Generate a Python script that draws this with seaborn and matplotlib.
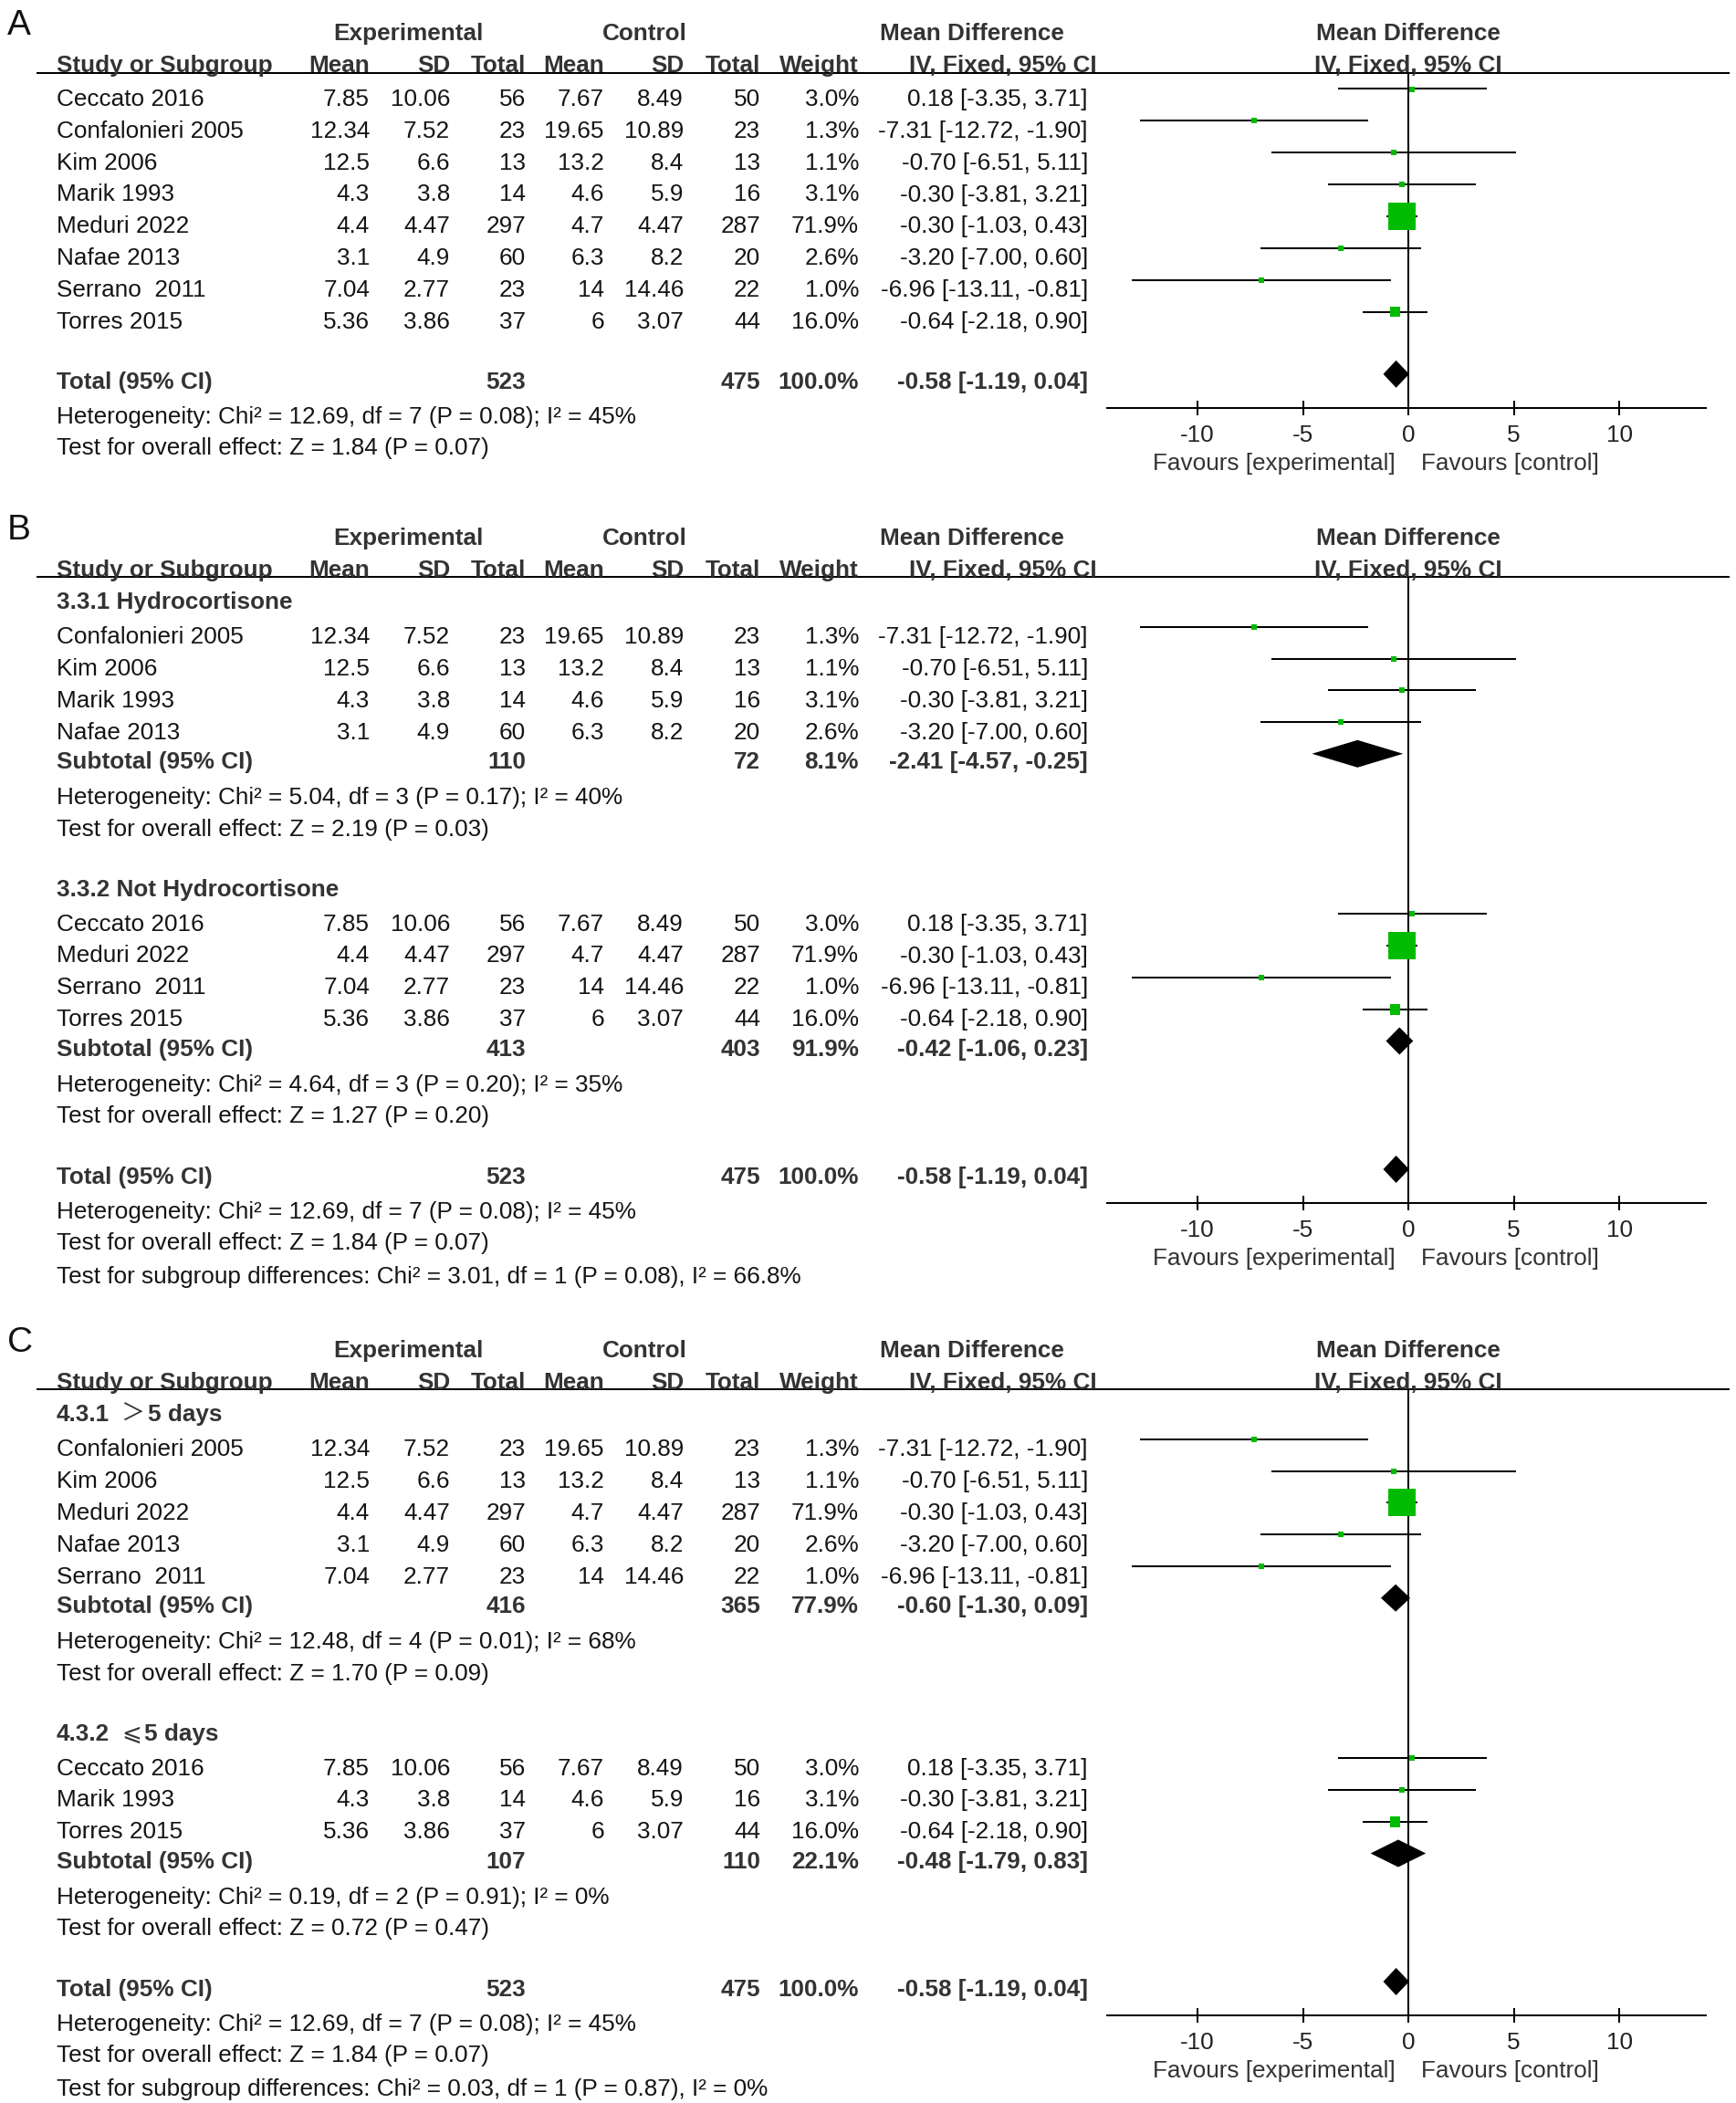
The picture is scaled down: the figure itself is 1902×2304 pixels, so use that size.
import matplotlib
matplotlib.use("Agg")
import matplotlib.pyplot as plt
import seaborn as sns
import numpy as np

# ---------------------------------------------------------------- data
study_names = ["Ceccato 2016", "Confalonieri 2005", "Kim 2006", "Marik 1993",
               "Meduri 2022", "Nafae 2013", "Serrano  2011", "Torres 2015"]
exp_mean = [7.85, 12.34, 12.5, 4.3, 4.4, 3.1, 7.04, 5.36]
exp_sd = [10.06, 7.52, 6.6, 3.8, 4.47, 4.9, 2.77, 3.86]
exp_n = [56, 23, 13, 14, 297, 60, 23, 37]
ctl_mean = [7.67, 19.65, 13.2, 4.6, 4.7, 6.3, 14, 6]
ctl_sd = [8.49, 10.89, 8.4, 5.9, 4.47, 8.2, 14.46, 3.07]
ctl_n = [50, 23, 13, 16, 287, 20, 22, 44]
weights = [3.0, 1.3, 1.1, 3.1, 71.9, 2.6, 1.0, 16.0]
md = [0.18, -7.31, -0.70, -0.30, -0.30, -3.20, -6.96, -0.64]
ci_low = [-3.35, -12.72, -6.51, -3.81, -1.03, -7.00, -13.11, -2.18]
ci_high = [3.71, -1.90, 5.11, 3.21, 0.43, 0.60, -0.81, 0.90]

total_exp_n = 523
total_ctl_n = 475
total_weight = 100.0
total_md = -0.58
total_lo = -1.19
total_hi = 0.04
total_het = "Heterogeneity: Chi² = 12.69, df = 7 (P = 0.08); I² = 45%"
total_test = "Test for overall effect: Z = 1.84 (P = 0.07)"

# panel A: all studies
a_order = ["Ceccato 2016", "Confalonieri 2005", "Kim 2006", "Marik 1993",
           "Meduri 2022", "Nafae 2013", "Serrano  2011", "Torres 2015"]

# panel B: by drug
b_titles = [[("3.3.1 Hydrocortisone", "bold")],
            [("3.3.2 Not Hydrocortisone", "bold")]]
b_members = [["Confalonieri 2005", "Kim 2006", "Marik 1993", "Nafae 2013"],
             ["Ceccato 2016", "Meduri 2022", "Serrano  2011", "Torres 2015"]]
b_sub_exp_n = [110, 413]
b_sub_ctl_n = [72, 403]
b_sub_weight = [8.1, 91.9]
b_sub_md = [-2.41, -0.42]
b_sub_lo = [-4.57, -1.06]
b_sub_hi = [-0.25, 0.23]
b_sub_het = ["Heterogeneity: Chi² = 5.04, df = 3 (P = 0.17); I² = 40%",
             "Heterogeneity: Chi² = 4.64, df = 3 (P = 0.20); I² = 35%"]
b_sub_test = ["Test for overall effect: Z = 2.19 (P = 0.03)",
              "Test for overall effect: Z = 1.27 (P = 0.20)"]
b_diff = "Test for subgroup differences: Chi² = 3.01, df = 1 (P = 0.08), I² = 66.8%"

# panel C: by duration
c_titles = [[("4.3.1", "bold"), ("＞", "sym"), ("5 days", "bold")],
            [("4.3.2", "bold"), ("⩽", "sym"), ("5 days", "bold")]]
c_members = [["Confalonieri 2005", "Kim 2006", "Meduri 2022", "Nafae 2013", "Serrano  2011"],
             ["Ceccato 2016", "Marik 1993", "Torres 2015"]]
c_sub_exp_n = [416, 107]
c_sub_ctl_n = [365, 110]
c_sub_weight = [77.9, 22.1]
c_sub_md = [-0.60, -0.48]
c_sub_lo = [-1.30, -1.79]
c_sub_hi = [0.09, 0.83]
c_sub_het = ["Heterogeneity: Chi² = 12.48, df = 4 (P = 0.01); I² = 68%",
             "Heterogeneity: Chi² = 0.19, df = 2 (P = 0.91); I² = 0%"]
c_sub_test = ["Test for overall effect: Z = 1.70 (P = 0.09)",
              "Test for overall effect: Z = 0.72 (P = 0.47)"]
c_diff = "Test for subgroup differences: Chi² = 0.03, df = 1 (P = 0.87), I² = 0%"

x_ticks = [-10, -5, 0, 5, 10]
x_tick_labels = ["-10", "-5", "0", "5", "10"]
favours_left = "Favours [experimental]"
favours_right = "Favours [control]"

# ---------------------------------------------------------------- style / layout
sns.set_theme(style="white")
FAM = ["Liberation Sans", "DejaVu Sans", "Noto Sans CJK SC"]
SYM_FAM = ["Noto Sans CJK SC", "DejaVu Sans"]
plt.rcParams["font.family"] = FAM

W, H = 1902, 2304
FS = 18.8
BASE_OFF = 9.3
BODY = "#141414"
HEAD = "#333333"
GREEN = "#00BB00"
LW = 1.45

ZERO_X = 1543.0
PX_PER_UNIT = 23.1
XLIM = (-14.3, 14.1)

COL = dict(name=62, em=405, esd=493, en=576, cm=662, csd=749, cn=833, w=941, ci=1192)

SPACING = {
    ("header1", "header2"): 35, ("header2", "group"): 35, ("header2", "study"): 36.5,
    ("group", "study"): 38, ("study", "study"): 34.9, ("study", "subtotal"): 32.5,
    ("subtotal", "het"): 39, ("het", "test"): 34.5, ("test", "group"): 66,
    ("test", "total"): 67, ("study", "total"): 66, ("total", "het"): 37.5,
    ("test", "subgroup"): 36.5,
}

fig = plt.figure(figsize=(W / 100, H / 100), dpi=100)
bg = fig.add_axes([0, 0, 1, 1])
bg.set_xlim(0, W)
bg.set_ylim(H, 0)
bg.axis("off")
renderer = fig.canvas.get_renderer()


def txt(x, yc, s, ha="left", bold=False, color=None, size=FS, family=None):
    kw = {}
    if family is not None:
        kw["family"] = family
    return bg.text(x, yc + BASE_OFF, s, ha=ha, va="baseline", fontsize=size,
                   fontweight="bold" if bold else "normal",
                   color=color or (HEAD if bold else BODY), **kw)


def pieces(x, yc, parts):
    gaps = {"bold": 13, "sym": 2.5}
    for s, kind in parts:
        if kind == "sym":
            t = txt(x, yc, s, color=HEAD, family=SYM_FAM)
        else:
            t = txt(x, yc, s, bold=True)
        bb = t.get_window_extent(renderer=renderer)
        x += bb.width + gaps[kind]


def ci_str(m, lo, hi):
    return f"{m:.2f} [{lo:.2f}, {hi:.2f}]"


def build_rows(order=None, titles=None, members=None, subs=None, diff=None):
    rows = [("header1", None), ("header2", None)]
    if titles is None:
        rows += [("study", n) for n in order]
    else:
        for gi, title in enumerate(titles):
            rows.append(("group", title))
            rows += [("study", n) for n in members[gi]]
            rows.append(("subtotal", gi))
            rows.append(("het", subs["het"][gi]))
            rows.append(("test", subs["test"][gi]))
    rows += [("total", None), ("het", total_het), ("test", total_test)]
    if diff is not None:
        rows.append(("subgroup", diff))
    return rows


def draw_panel(letter, y_start, rows, subs=None):
    ys = []
    y = y_start
    prev = None
    for kind, _ in rows:
        if prev is not None:
            y += SPACING[(prev, kind)]
        ys.append(y)
        prev = kind

    y_h1, y_h2 = ys[0], ys[1]
    line_y = y_h2 + 9.8
    y_total = ys[[k for k, _ in rows].index("total")]
    axis_y = y_total + 30

    # panel letter
    txt(8, y_h1 - 6, letter, size=28, color="#111111")

    # headers
    txt(447, y_h1, "Experimental", ha="center", bold=True)
    txt(706, y_h1, "Control", ha="center", bold=True)
    txt(1065, y_h1, "Mean Difference", ha="center", bold=True)
    txt(ZERO_X, y_h1, "Mean Difference", ha="center", bold=True)
    txt(COL["name"], y_h2, "Study or Subgroup", bold=True)
    for key, lab in [("em", "Mean"), ("esd", "SD"), ("en", "Total"), ("cm", "Mean"),
                     ("csd", "SD"), ("cn", "Total"), ("w", "Weight")]:
        txt(COL[key], y_h2, lab, ha="right", bold=True)
    txt(1202, y_h2, "IV, Fixed, 95% CI", ha="right", bold=True)
    txt(ZERO_X, y_h2, "IV, Fixed, 95% CI", ha="center", bold=True)
    bg.plot([40, 1895], [line_y, line_y], color="black", lw=LW, solid_capstyle="butt")

    st_x, st_lo, st_hi, st_w, st_y = [], [], [], [], []
    dia = []
    for (kind, val), yc in zip(rows, ys):
        if kind == "group":
            pieces(COL["name"], yc, val)
        elif kind == "study":
            i = study_names.index(val)
            txt(COL["name"], yc, val)
            txt(COL["em"], yc, f"{exp_mean[i]:g}", ha="right")
            txt(COL["esd"], yc, f"{exp_sd[i]:g}", ha="right")
            txt(COL["en"], yc, f"{exp_n[i]}", ha="right")
            txt(COL["cm"], yc, f"{ctl_mean[i]:g}", ha="right")
            txt(COL["csd"], yc, f"{ctl_sd[i]:g}", ha="right")
            txt(COL["cn"], yc, f"{ctl_n[i]}", ha="right")
            txt(COL["w"], yc, f"{weights[i]:.1f}%", ha="right")
            txt(COL["ci"], yc, ci_str(md[i], ci_low[i], ci_high[i]), ha="right")
            st_x.append(md[i]); st_lo.append(ci_low[i]); st_hi.append(ci_high[i])
            st_w.append(weights[i]); st_y.append(yc - 9)
        elif kind in ("subtotal", "total"):
            if kind == "subtotal":
                gi = val
                en, cn, w = subs["en"][gi], subs["cn"][gi], subs["w"][gi]
                m, lo, hi = subs["md"][gi], subs["lo"][gi], subs["hi"][gi]
                label = "Subtotal (95% CI)"
            else:
                en, cn, w = total_exp_n, total_ctl_n, total_weight
                m, lo, hi = total_md, total_lo, total_hi
                label = "Total (95% CI)"
            txt(COL["name"], yc, label, bold=True)
            txt(COL["en"], yc, f"{en}", ha="right", bold=True)
            txt(COL["cn"], yc, f"{cn}", ha="right", bold=True)
            txt(COL["w"], yc, f"{w:.1f}%", ha="right", bold=True)
            txt(COL["ci"], yc, ci_str(m, lo, hi), ha="right", bold=True)
            dia.append((m, lo, hi, yc - 7))
        else:  # het / test / subgroup
            txt(COL["name"], yc, val)

    # forest axes
    x0 = ZERO_X + XLIM[0] * PX_PER_UNIT
    x1 = ZERO_X + XLIM[1] * PX_PER_UNIT
    ax = fig.add_axes([x0 / W, 1 - axis_y / H, (x1 - x0) / W, (axis_y - line_y) / H])
    ax.patch.set_alpha(0)
    ax.set_xlim(*XLIM)
    ax.set_ylim(axis_y, line_y)
    for s in ["top", "left", "right"]:
        ax.spines[s].set_visible(False)
    ax.spines["bottom"].set_color("black")
    ax.spines["bottom"].set_linewidth(LW)
    ax.axvline(0, color="black", lw=LW, zorder=1)
    ax.hlines(st_y, st_lo, st_hi, color="black", lw=LW, zorder=2)
    side_px = [max(6.0, 30 * (w / 71.9) ** 0.65) for w in st_w]
    sizes = [(s * 0.72) ** 2 for s in side_px]
    sns.scatterplot(x=st_x, y=st_y, marker="s", s=sizes, color=GREEN, linewidth=0,
                    ax=ax, legend=False, zorder=3)
    for m, lo, hi, yd in dia:
        ax.fill([lo, m, hi, m], [yd, yd - 15, yd, yd + 15], color="black", lw=0, zorder=4)
    ax.set_yticks([])
    ax.set_xticks(x_ticks)
    ax.set_xticklabels(x_tick_labels)
    ax.tick_params(axis="x", bottom=True, direction="inout", length=12.2, width=LW,
                   pad=6.8, labelsize=FS, labelcolor="#222222", color="black")
    ax.set_xlabel("")
    ax.set_ylabel("")
    ax.grid(False)

    txt(ZERO_X - 14, axis_y + 59, favours_left, ha="right", color="#333333")
    txt(ZERO_X + 14, axis_y + 59, favours_right, ha="left", color="#333333")


rows_a = build_rows(order=a_order)
draw_panel("A", 35, rows_a)

subs_b = dict(en=b_sub_exp_n, cn=b_sub_ctl_n, w=b_sub_weight, md=b_sub_md,
              lo=b_sub_lo, hi=b_sub_hi, het=b_sub_het, test=b_sub_test)
rows_b = build_rows(titles=b_titles, members=b_members, subs=subs_b, diff=b_diff)
draw_panel("B", 587.6, rows_b, subs_b)

subs_c = dict(en=c_sub_exp_n, cn=c_sub_ctl_n, w=c_sub_weight, md=c_sub_md,
              lo=c_sub_lo, hi=c_sub_hi, het=c_sub_het, test=c_sub_test)
rows_c = build_rows(titles=c_titles, members=c_members, subs=subs_c, diff=c_diff)
draw_panel("C", 1477.6, rows_c, subs_c)

fig.savefig("out.png", dpi=100, facecolor="white")
